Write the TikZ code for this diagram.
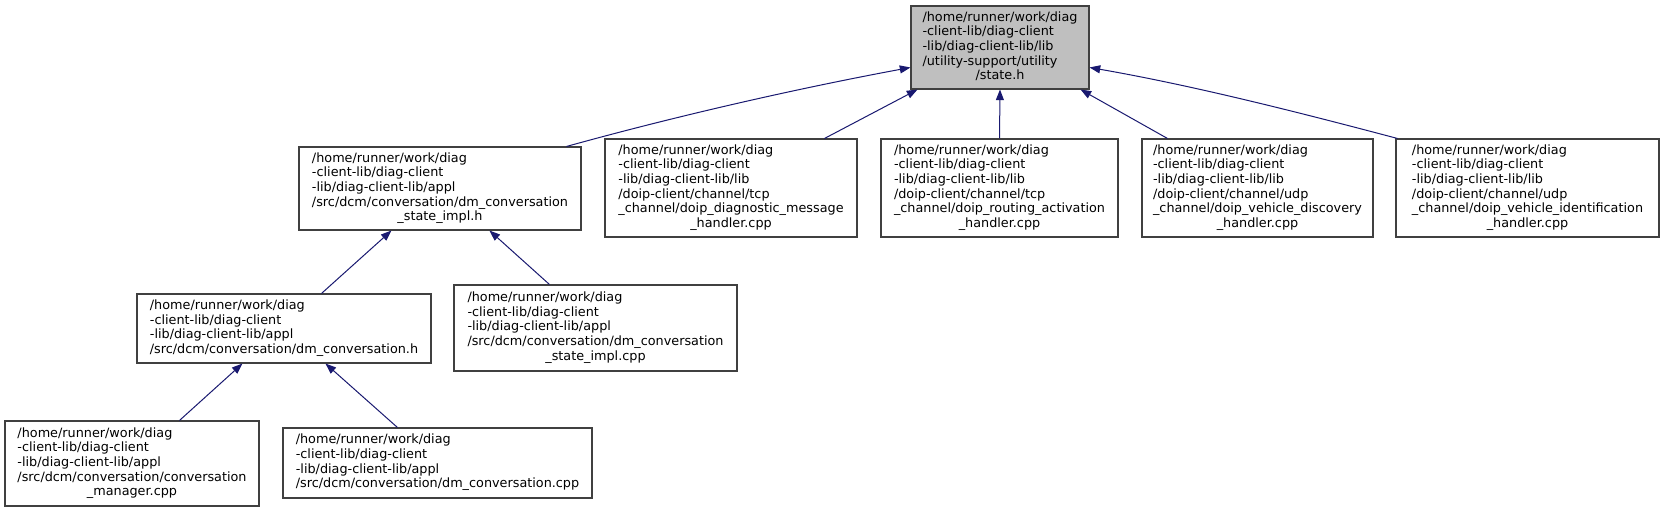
\documentclass[tikz,border=0pt]{standalone}
\usepackage{fontspec}
\setmainfont{DejaVu Sans}
\usetikzlibrary{arrows.meta,calc}
\definecolor{edgeblue}{HTML}{191970}
\definecolor{boxline}{HTML}{404040}
\definecolor{topfill}{HTML}{BFBFBF}
\newcommand\dlabel[2]{\begin{tabular}{@{}l@{}}#1\\\multicolumn{1}{@{}c@{}}{#2}\end{tabular}}
\tikzset{
  dbox/.style 2 args={draw=boxline, line width=0.8pt, fill=white, inner sep=0pt,
    minimum width=#1*0.75pt, minimum height=#2*0.75pt,
    font=\fontsize{9.6}{11}\selectfont},
  edge/.style={draw=edgeblue, line width=0.75pt,
    -{Triangle[length=8pt,width=6pt]}, fill=none},
}
\begin{document}
\begin{tikzpicture}[x=0.75pt,y=-0.75pt]
\fill[white] (0,0) rectangle (1665,511);
\useasboundingbox (0,0) rectangle (1665,511);

\node[dbox={178}{83}, fill=topfill] (T) at (1000,47.5)
  {\dlabel{/home/runner/work/diag\\-client-lib/diag-client\\-lib/diag-client-lib/lib\\/utility-support/utility}{/state.h}};

\node[dbox={282}{83}] (A) at (440,188.5)
  {\dlabel{/home/runner/work/diag\\-client-lib/diag-client\\-lib/diag-client-lib/appl\\/src/dcm/conversation/dm\_conversation}{\_state\_impl.h}};

\node[dbox={252}{98}] (B) at (731,188)
  {\dlabel{/home/runner/work/diag\\-client-lib/diag-client\\-lib/diag-client-lib/lib\\/doip-client/channel/tcp\\\_channel/doip\_diagnostic\_message}{\_handler.cpp}};

\node[dbox={237}{98}] (C) at (999.5,188)
  {\dlabel{/home/runner/work/diag\\-client-lib/diag-client\\-lib/diag-client-lib/lib\\/doip-client/channel/tcp\\\_channel/doip\_routing\_activation}{\_handler.cpp}};

\node[dbox={231}{98}] (D) at (1257.5,188)
  {\dlabel{/home/runner/work/diag\\-client-lib/diag-client\\-lib/diag-client-lib/lib\\/doip-client/channel/udp\\\_channel/doip\_vehicle\_discovery}{\_handler.cpp}};

\node[dbox={263}{98}] (E) at (1527.5,188)
  {\dlabel{/home/runner/work/diag\\-client-lib/diag-client\\-lib/diag-client-lib/lib\\/doip-client/channel/udp\\\_channel/doip\_vehicle\_identification}{\_handler.cpp}};

\node[dbox={294}{69}] (F) at (284,328.5)
  {\dlabel{/home/runner/work/diag\\-client-lib/diag-client\\-lib/diag-client-lib/appl}{/src/dcm/conversation/dm\_conversation.h}};

\node[dbox={283}{86}] (G) at (595.5,328)
  {\dlabel{/home/runner/work/diag\\-client-lib/diag-client\\-lib/diag-client-lib/appl\\/src/dcm/conversation/dm\_conversation}{\_state\_impl.cpp}};

\node[dbox={254}{85}] (H) at (132,463.5)
  {\dlabel{/home/runner/work/diag\\-client-lib/diag-client\\-lib/diag-client-lib/appl\\/src/dcm/conversation/conversation}{\_manager.cpp}};

\node[dbox={309}{70}] (I) at (437.5,463)
  {\dlabel{/home/runner/work/diag\\-client-lib/diag-client\\-lib/diag-client-lib/appl}{/src/dcm/conversation/dm\_conversation.cpp}};

% edges (child -> parent)
\draw[edge] ($(A.north west)+(268,0)$) .. controls (680,115) and (800,88) .. ($(T.north west)+(0,62)$);
\draw[edge] ($(B.north west)+(220,0)$) -- ($(T.south west)+(7,0)$);
\draw[edge] (C.north) -- (T.south);
\draw[edge] ($(D.north west)+(26,0)$) -- ($(T.south east)+(-9,0)$);
\draw[edge] ($(E.north west)+(2,0)$) .. controls (1290,110) and (1190,85) .. ($(T.north east)+(0,62)$);
\draw[edge] ($(F.north west)+(185,0)$) -- ($(A.south west)+(93,0)$);
\draw[edge] ($(G.north west)+(96,0)$) -- ($(A.south west)+(191,0)$);
\draw[edge] ($(H.north west)+(175,0)$) -- ($(F.south west)+(106,0)$);
\draw[edge] ($(I.north west)+(115,0)$) -- ($(F.south west)+(189,0)$);
\end{tikzpicture}
\end{document}
